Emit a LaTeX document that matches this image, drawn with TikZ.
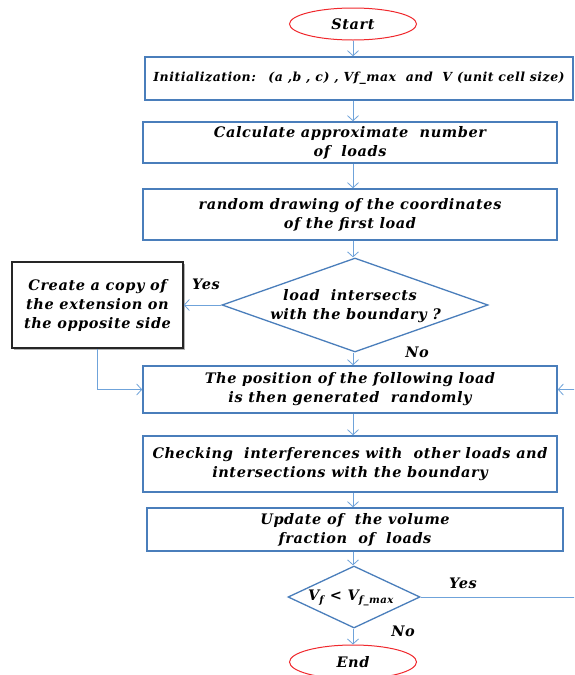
\documentclass[tikz,border=0pt]{standalone}
\usepackage{fontspec}
\setmainfont{DejaVu Serif}[LetterSpace=4]
\usetikzlibrary{arrows.meta,shapes.geometric,shadows}
\definecolor{boxblue}{HTML}{4A7EBB}
\definecolor{arrblue}{HTML}{6FA3DA}
\definecolor{endred}{HTML}{F0282D}
\tikzset{
  txt/.style={font=\fontsize{14.5}{19}\selectfont\bfseries\itshape, align=center, inner sep=0},
  procbox/.style={draw=boxblue, line width=1.6pt, rectangle, inner sep=0, txt},
  term/.style={draw=endred, line width=1pt, ellipse, inner sep=0, txt},
  decis/.style={draw=boxblue, line width=1.3pt, diamond, inner sep=0},
  flow/.style={draw=arrblue, line width=0.8pt, -{Straight Barb[length=5pt,width=11pt]}},
  lbl/.style={txt}
}
\begin{document}
\begin{tikzpicture}[x=1pt,y=-1pt]
\clip (0,0) rectangle (574,675);
\fill[white] (0,0) rectangle (574,675);

\node[term, minimum width=127, minimum height=32] (start) at (353,24) {Start};
\node[procbox, minimum width=428, minimum height=43] (init) at (359,78.5) {\fontsize{12.5}{16}\selectfont Initialization:\quad (a ,b , c) , Vf\_max\ \ and\ \ V (unit cell size)};
\node[procbox, minimum width=414, minimum height=41] (calc) at (350,142.5) {Calculate approximate\ \ number\\ of\ \ loads};
\node[procbox, minimum width=414, minimum height=51] (rand) at (350,214.5) {random drawing of the coordinates\\ of the first load};
\node[decis, minimum width=266, minimum height=94] (d1) at (355,305) {};
\node[txt] (d1t) at (350,306) {load\ \ intersects\\ \ \ with the boundary ?};
\node[procbox, draw=black!85, line width=1.6pt, minimum width=171, minimum height=86, drop shadow={shadow xshift=2pt, shadow yshift=-2pt, opacity=0.6}, fill=white] (copy) at (97.5,305) {Create a copy of\\ the extension on\\ the opposite side};
\node[procbox, minimum width=414, minimum height=47] (pos) at (350,389.5) {The position of the following load\\ is then generated\ \ randomly};
\node[procbox, minimum width=414, minimum height=56] (check) at (350,464) {Checking\ \ interferences with\ \ other loads and\\ intersections with the boundary};
\node[procbox, minimum width=416, minimum height=43] (upd) at (355,529.5) {Update of\ \ the volume\\ fraction\ \ of\ \ loads};
\node[decis, minimum width=132, minimum height=62] (d2) at (354,597) {};
\node[txt] (d2t) at (351,598) {V\textsubscript{f} < V\textsubscript{f\_max}};
\node[term, minimum width=127, minimum height=34] (end) at (353,662) {End};

\node[lbl] (yes1) at (206,284) {Yes};
\node[lbl] (no1) at (417,352) {No};
\node[lbl] (yes2) at (463,583) {Yes};
\node[lbl] (no2) at (403,631) {No};

\draw[flow] (start.south) -- (start.south |- init.north);
\draw[flow] (init.south -| start.south) -- (start.south |- calc.north);
\draw[flow] (calc.south -| start.south) -- (start.south |- rand.north);
\draw[flow] (rand.south -| start.south) -- (start.south |- d1.north);
\draw[flow] (d1.west) -- (copy.east);
\draw[flow] (d1.south -| start.south) -- (start.south |- pos.north);
\draw[flow] (copy.south) |- (pos.west);
\draw[flow] (pos.south -| start.south) -- (start.south |- check.north);
\draw[flow] (check.south -| start.south) -- (start.south |- upd.north);
\draw[flow] (upd.south -| start.south) -- (start.south |- d2.north);
\draw[flow] (d2.south -| start.south) -- (start.south |- end.north);
\draw[flow] (d2.east) -- (590,597) |- (pos.east);
\end{tikzpicture}
\end{document}
